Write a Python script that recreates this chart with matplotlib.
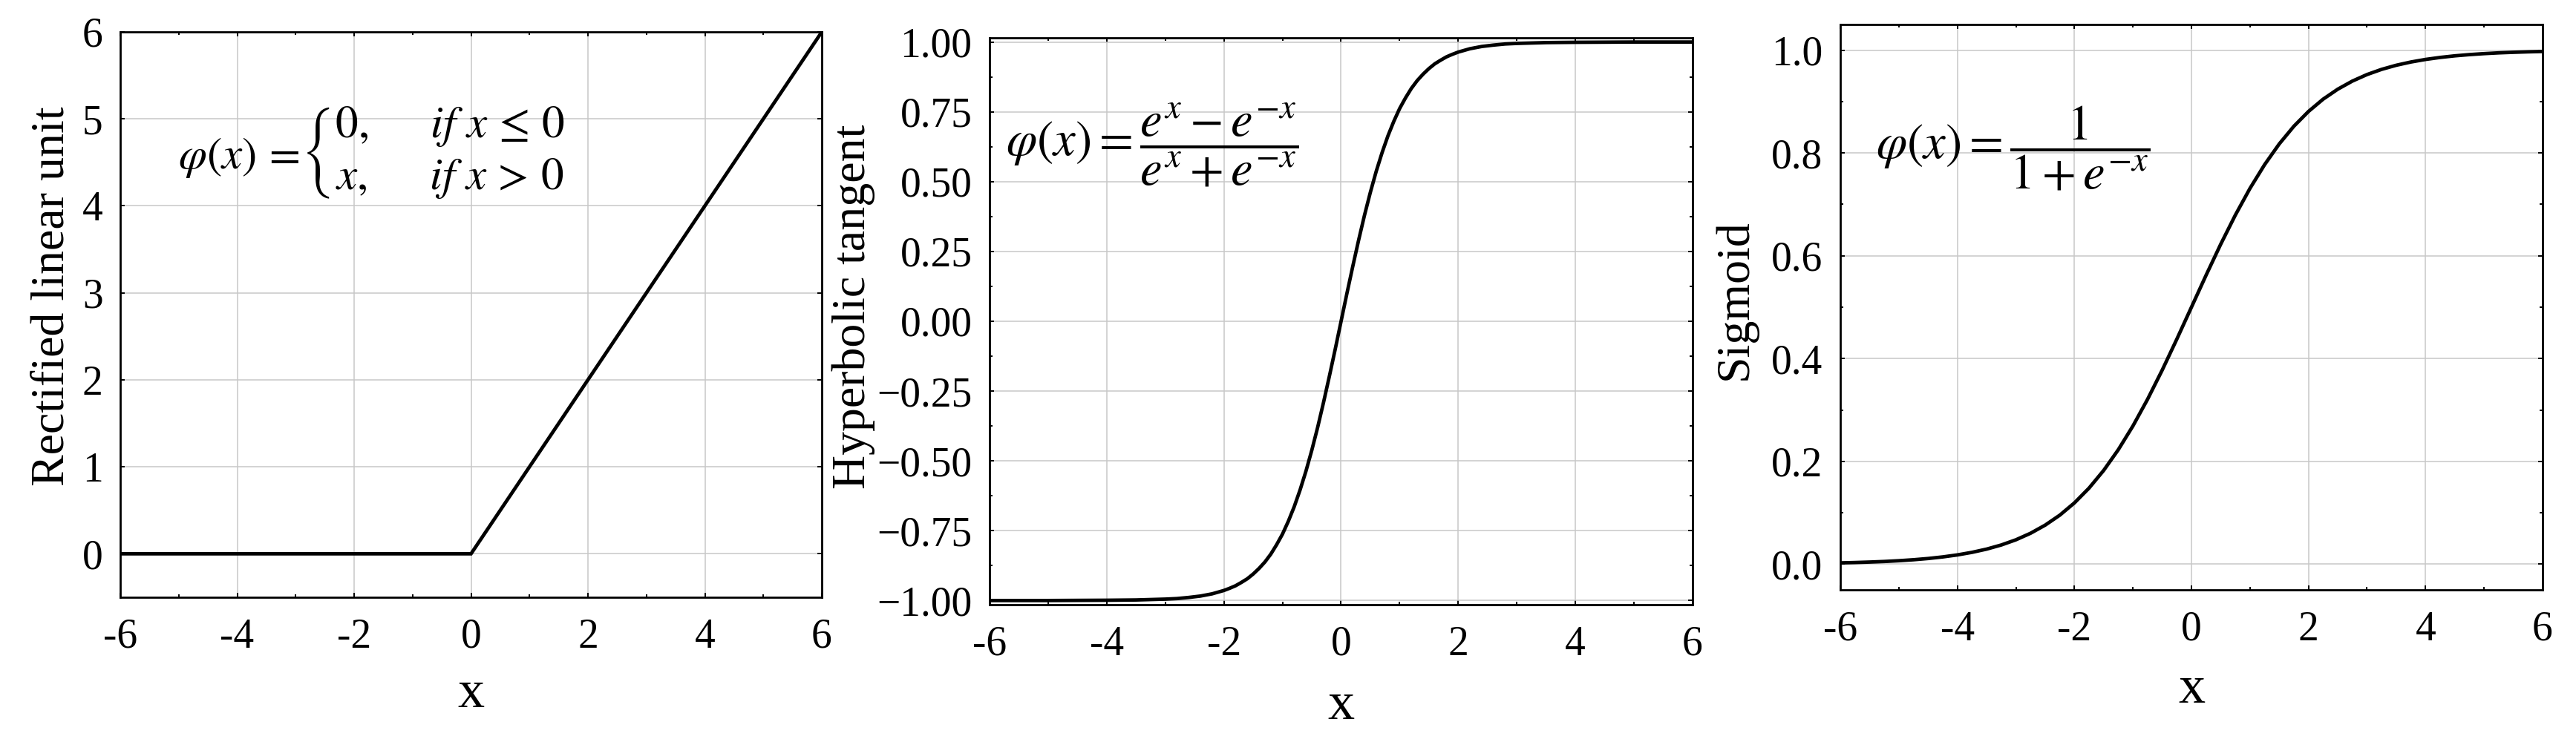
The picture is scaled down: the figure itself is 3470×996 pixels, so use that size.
import matplotlib

matplotlib.use("Agg")
import matplotlib.pyplot as plt
from matplotlib.ticker import MultipleLocator

plt.rcParams["font.family"] = ["Liberation Serif", "DejaVu Serif"]
plt.rcParams["mathtext.fontset"] = "stix"
plt.rcParams["axes.unicode_minus"] = False

# --- data ------------------------------------------------------------------
RELU_X = [-6, 0, 6]
RELU_Y = [0, 0, 6]

TANH_X = [-6, -5, -4, -3.5, -3, -2.8, -2.6, -2.4, -2.2, -2.0, -1.9, -1.8, -1.7,
          -1.6, -1.5, -1.4, -1.3, -1.2, -1.1, -1.0, -0.9, -0.8, -0.7, -0.6, -0.5,
          -0.4, -0.3, -0.2, -0.1, 0.0, 0.1, 0.2, 0.3, 0.4, 0.5, 0.6, 0.7, 0.8,
          0.9, 1.0, 1.1, 1.2, 1.3, 1.4, 1.5, 1.6, 1.7, 1.8, 1.9, 2.0, 2.2, 2.4,
          2.6, 2.8, 3, 3.5, 4, 5, 6]
TANH_Y = [-1.000, -1.000, -0.999, -0.998, -0.995, -0.993, -0.989, -0.984, -0.976,
          -0.964, -0.956, -0.947, -0.935, -0.922, -0.905, -0.885, -0.862, -0.834,
          -0.800, -0.762, -0.716, -0.664, -0.604, -0.537, -0.462, -0.380, -0.291,
          -0.197, -0.100, 0.000, 0.100, 0.197, 0.291, 0.380, 0.462, 0.537, 0.604,
          0.664, 0.716, 0.762, 0.800, 0.834, 0.862, 0.885, 0.905, 0.922, 0.935,
          0.947, 0.956, 0.964, 0.976, 0.984, 0.989, 0.993, 0.995, 0.998, 0.999,
          1.000, 1.000]

SIG_X = [-6, -5.75, -5.5, -5.25, -5, -4.75, -4.5, -4.25, -4, -3.75, -3.5, -3.25,
         -3, -2.75, -2.5, -2.25, -2, -1.75, -1.5, -1.25, -1, -0.75, -0.5, -0.25,
         0, 0.25, 0.5, 0.75, 1, 1.25, 1.5, 1.75, 2, 2.25, 2.5, 2.75, 3, 3.25,
         3.5, 3.75, 4, 4.25, 4.5, 4.75, 5, 5.25, 5.5, 5.75, 6]
SIG_Y = [0.0025, 0.0032, 0.0041, 0.0052, 0.0067, 0.0086, 0.0110, 0.0141, 0.0180,
         0.0230, 0.0293, 0.0373, 0.0474, 0.0601, 0.0759, 0.0953, 0.1192, 0.1480,
         0.1824, 0.2227, 0.2689, 0.3208, 0.3775, 0.4378, 0.5000, 0.5622, 0.6225,
         0.6792, 0.7311, 0.7773, 0.8176, 0.8520, 0.8808, 0.9047, 0.9241, 0.9399,
         0.9526, 0.9627, 0.9707, 0.9770, 0.9820, 0.9859, 0.9890, 0.9914, 0.9933,
         0.9948, 0.9959, 0.9968, 0.9975]

X_TICKS = [-6, -4, -2, 0, 2, 4, 6]
X_LABELS = ["-6", "-4", "-2", "0", "2", "4", "6"]

RELU_YTICKS = [0, 1, 2, 3, 4, 5, 6]
RELU_YLABELS = ["0", "1", "2", "3", "4", "5", "6"]

TANH_YTICKS = [-1.0, -0.75, -0.5, -0.25, 0.0, 0.25, 0.5, 0.75, 1.0]
TANH_YLABELS = ["\u22121.00", "\u22120.75", "\u22120.50", "\u22120.25", "0.00",
                "0.25", "0.50", "0.75", "1.00"]

SIG_YTICKS = [0.0, 0.2, 0.4, 0.6, 0.8, 1.0]
SIG_YLABELS = ["0.0", "0.2", "0.4", "0.6", "0.8", "1.0"]

RELU_EQ_LHS = r"$\varphi(x)\,=$"
RELU_EQ_RHS = (r"$\left\{\genfrac{}{}{0}{0}"
               r"{0,\quad\ \ if\ x\,\leq\,0}{x,\quad\ \ if\ x\,>\,0}\right.$")
TANH_EQ = r"$\varphi(x) = \dfrac{e^{x} - e^{-x}}{e^{x} + e^{-x}}$"
SIG_EQ = r"$\varphi(x) = \dfrac{1}{1 + e^{-x}}$"

GRID_COLOR = "#c8c8c8"
TICK_FS = 40
LABEL_FS = 46
X_LABEL_FS = 52
EQ_FS = 48
RELU_EQ_FS = 44


def style_axes(ax, yticks, ylabels, ylim, ymin_step):
    ax.set_xlim(-6, 6)
    ax.set_ylim(*ylim)
    ax.set_xticks(X_TICKS)
    ax.set_xticklabels(X_LABELS)
    ax.set_yticks(yticks)
    ax.set_yticklabels(ylabels)
    ax.xaxis.set_minor_locator(MultipleLocator(1))
    if ymin_step:
        ax.yaxis.set_minor_locator(MultipleLocator(ymin_step))
    ax.tick_params(which="both", direction="in", top=True, right=True,
                   width=1.4, color="black")
    ax.tick_params(which="major", length=4)
    ax.tick_params(which="minor", length=3)
    ax.tick_params(axis="x", which="major", labelsize=TICK_FS, pad=20)
    ax.tick_params(axis="y", which="major", labelsize=TICK_FS, pad=17)
    ax.grid(True, which="major", color=GRID_COLOR, linewidth=1.1)
    ax.set_axisbelow(True)
    for sp in ax.spines.values():
        sp.set_linewidth(2.0)
        sp.set_color("black")
        sp.set_zorder(3)


def make_plot(out_path):
    fig = plt.figure(figsize=(34.7, 9.96), dpi=100)

    # axes boxes measured on the 3470x996 reference
    ax1 = fig.add_axes([0.04669, 0.19177, 0.27233, 0.76506])
    ax2 = fig.add_axes([0.38415, 0.18173, 0.27291, 0.76707])
    ax3 = fig.add_axes([0.71441, 0.20181, 0.27262, 0.76506])

    ax1.plot(RELU_X, RELU_Y, color="black", linewidth=3.4, solid_joinstyle="miter")
    style_axes(ax1, RELU_YTICKS, RELU_YLABELS, (-0.5, 6), None)
    ax1.set_ylabel("Rectified linear unit", fontsize=LABEL_FS, va="center")
    ax1.yaxis.set_label_coords(-0.097, 0.533)
    # piecewise formula: left-hand side and the braced rows placed separately
    ax1.text(0.0825, 0.777, RELU_EQ_LHS, transform=ax1.transAxes,
             fontsize=RELU_EQ_FS, ha="left", va="center")
    ax1.text(0.258, 0.785, RELU_EQ_RHS, transform=ax1.transAxes,
             fontsize=RELU_EQ_FS, ha="left", va="center")

    ax2.plot(TANH_X, TANH_Y, color="black", linewidth=3.4)
    style_axes(ax2, TANH_YTICKS, TANH_YLABELS, (-1.015, 1.015), 0.125)
    ax2.set_ylabel("Hyperbolic tangent", fontsize=LABEL_FS, va="center")
    ax2.yaxis.set_label_coords(-0.193, 0.526)
    ax2.text(0.023, 0.812, TANH_EQ, transform=ax2.transAxes, fontsize=EQ_FS,
             ha="left", va="center")

    ax3.plot(SIG_X, SIG_Y, color="black", linewidth=3.4)
    style_axes(ax3, SIG_YTICKS, SIG_YLABELS, (-0.05, 1.05), 0.1)
    ax3.set_ylabel("Sigmoid", fontsize=LABEL_FS, va="center")
    ax3.yaxis.set_label_coords(-0.150, 0.514)
    ax3.text(0.051, 0.781, SIG_EQ, transform=ax3.transAxes, fontsize=EQ_FS,
             ha="left", va="center")

    for ax, yb in ((ax1, -0.194), (ax2, -0.2016), (ax3, -0.1995)):
        ax.set_xlabel("x", fontsize=X_LABEL_FS, va="baseline")
        ax.xaxis.set_label_coords(0.5, yb)

    fig.savefig(out_path, dpi=100, facecolor="white")
    plt.close(fig)


if __name__ == "__main__":
    make_plot("out.png")
